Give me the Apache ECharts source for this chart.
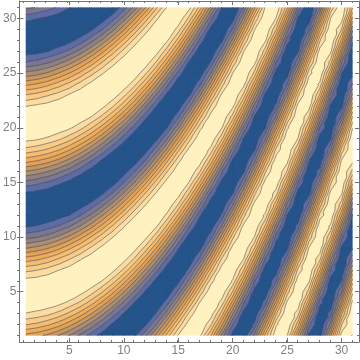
<!DOCTYPE html>
<html><head><meta charset="utf-8"><style>html,body{margin:0;padding:0;background:#fff}#c{width:360px;height:360px}</style>
<script src="https://cdn.jsdelivr.net/npm/echarts@6/dist/echarts.min.js"></script></head><body><div id="c"></div>
<script>
const levels=[-0.8,-0.64,-0.48,-0.32,-0.16,0,0.16,0.32,0.48,0.64,0.8];
const bandColors=['#25548B','#5B6CA6','#7A7795','#8D8283','#A98E78','#C59765','#DFA25A','#EDAC5E','#F4BD74','#F8CC88','#FBDDA3','#FFF2C0'];
const majorTicks=[5,10,15,20,25,30];
const minorTicks=[1,2,3,4,5,6,7,8,9,10,11,12,13,14,15,16,17,18,19,20,21,22,23,24,25,26,27,28,29,30,31];
// Estimated surface heights: one list per x = 1..31, each running y = 1..31.
const zX01=[.11,.49,.79,.97,.99,.86,.59,.23,-.17,-.54,-.82,-.98,-.98,-.83,-.54,-.17,.23,.59,.86,.99,.97,.79,.49,.11,-.28,-.63,-.88,-1,-.95,-.75,-.44];
const zX02=[.05,.44,.75,.95,1,.88,.63,.28,-.11,-.49,-.79,-.97,-.99,-.86,-.59,-.23,.17,.54,.83,.98,.98,.83,.54,.17,-.23,-.59,-.86,-.99,-.97,-.79,-.49];
const zX03=[-.04,.35,.69,.92,1,.92,.7,.37,-.02,-.41,-.73,-.94,-1,-.9,-.66,-.32,.08,.46,.77,.96,.99,.87,.62,.26,-.14,-.51,-.81,-.97,-.99,-.84,-.57];
const zX04=[-.17,.23,.59,.86,.99,.97,.79,.49,.11,-.28,-.63,-.88,-1,-.95,-.76,-.44,-.05,.34,.68,.91,1,.93,.71,.39,0,-.39,-.72,-.93,-1,-.91,-.67];
const zX05=[-.33,.06,.44,.76,.95,1,.88,.63,.28,-.12,-.5,-.8,-.97,-.99,-.85,-.58,-.22,.18,.55,.83,.98,.98,.82,.53,.16,-.23,-.6,-.86,-.99,-.97,-.79];
const zX06=[-.52,-.15,.25,.61,.87,.99,.96,.78,.47,.09,-.31,-.65,-.9,-1,-.94,-.74,-.42,-.03,.36,.7,.92,1,.92,.7,.36,-.03,-.42,-.74,-.94,-1,-.9];
const zX07=[-.71,-.38,.01,.4,.72,.94,1,.91,.67,.33,-.07,-.45,-.76,-.95,-1,-.88,-.63,-.27,.13,.5,.8,.97,.99,.85,.58,.21,-.18,-.55,-.83,-.98,-.98];
const zX08=[-.88,-.62,-.27,.13,.5,.8,.97,.99,.85,.58,.21,-.18,-.55,-.83,-.98,-.98,-.82,-.53,-.16,.24,.6,.86,.99,.96,.78,.48,.1,-.3,-.65,-.89,-1];
const zX09=[-.98,-.84,-.56,-.19,.21,.57,.85,.99,.97,.8,.51,.13,-.26,-.62,-.88,-.99,-.96,-.77,-.46,-.08,.32,.66,.9,1,.94,.73,.41,.02,-.37,-.71,-.93];
const zX10=[-.98,-.98,-.81,-.52,-.15,.25,.61,.87,.99,.96,.78,.47,.09,-.3,-.65,-.89,-1,-.94,-.74,-.42,-.03,.36,.69,.92,1,.92,.7,.37,-.03,-.41,-.73];
const zX11=[-.84,-.98,-.97,-.81,-.52,-.14,.25,.61,.87,.99,.96,.78,.47,.09,-.31,-.65,-.9,-1,-.94,-.74,-.42,-.03,.36,.7,.92,1,.92,.7,.36,-.03,-.42];
const zX12=[-.53,-.82,-.98,-.98,-.83,-.55,-.18,.22,.58,.85,.99,.97,.79,.5,.12,-.28,-.63,-.88,-1,-.95,-.76,-.45,-.06,.33,.67,.91,1,.93,.72,.39,0];
const zX13=[-.09,-.47,-.78,-.96,-.99,-.87,-.6,-.24,.15,.53,.82,.98,.98,.83,.56,.19,-.21,-.57,-.85,-.99,-.97,-.8,-.51,-.13,.27,.62,.88,.99,.96,.77,.45];
const zX14=[.4,.01,-.38,-.71,-.93,-1,-.91,-.69,-.35,.04,.43,.75,.95,1,.89,.64,.29,-.1,-.48,-.79,-.97,-.99,-.86,-.6,-.24,.16,.53,.82,.98,.98,.83];
const zX15=[.82,.53,.16,-.24,-.6,-.86,-.99,-.96,-.78,-.48,-.1,.3,.64,.89,1,.95,.75,.43,.04,-.35,-.69,-.92,-1,-.93,-.71,-.37,.02,.41,.73,.94,1];
const zX16=[1,.91,.68,.33,-.06,-.44,-.76,-.95,-1,-.88,-.63,-.28,.12,.49,.79,.97,.99,.85,.58,.22,-.17,-.54,-.83,-.98,-.98,-.82,-.54,-.17,.23,.59,.86];
const zX17=[.83,.98,.98,.82,.53,.16,-.24,-.6,-.86,-.99,-.96,-.78,-.48,-.1,.29,.64,.89,1,.95,.75,.43,.04,-.35,-.69,-.92,-1,-.93,-.71,-.38,.01,.4];
const zX18=[.32,.66,.9,1,.94,.73,.41,.02,-.37,-.7,-.92,-1,-.92,-.69,-.35,.04,.43,.74,.95,1,.89,.65,.3,-.1,-.48,-.78,-.96,-.99,-.87,-.6,-.24];
const zX19=[-.37,.03,.41,.73,.94,1,.9,.66,.31,-.08,-.47,-.77,-.96,-.99,-.87,-.61,-.25,.14,.52,.81,.97,.99,.84,.56,.2,-.2,-.57,-.84,-.99,-.97,-.81];
const zX20=[-.89,-.65,-.3,.09,.47,.78,.96,.99,.87,.6,.25,-.15,-.52,-.81,-.98,-.98,-.84,-.55,-.19,.21,.57,.85,.99,.97,.8,.51,.13,-.27,-.62,-.88,-1];
const zX21=[-.95,-1,-.88,-.63,-.27,.12,.5,.8,.97,.99,.85,.58,.22,-.18,-.55,-.83,-.98,-.98,-.82,-.53,-.16,.24,.6,.86,.99,.96,.79,.48,.1,-.29,-.64];
const zX22=[-.44,-.76,-.95,-1,-.88,-.63,-.28,.11,.49,.79,.97,.99,.86,.59,.22,-.17,-.54,-.83,-.98,-.98,-.82,-.54,-.17,.23,.59,.86,.99,.97,.79,.49,.11];
const zX23=[.38,-.01,-.4,-.72,-.94,-1,-.91,-.67,-.33,.07,.45,.76,.95,1,.88,.62,.27,-.13,-.5,-.8,-.97,-.99,-.85,-.58,-.21,.18,.55,.83,.98,.98,.82];
const zX24=[.96,.77,.46,.07,-.32,-.66,-.9,-1,-.94,-.73,-.41,-.02,.37,.71,.93,1,.92,.69,.35,-.04,-.43,-.75,-.95,-1,-.89,-.64,-.29,.1,.48,.78,.96];
const zX25=[.81,.97,.98,.84,.56,.19,-.2,-.57,-.85,-.99,-.97,-.81,-.51,-.14,.26,.62,.87,.99,.96,.77,.46,.08,-.32,-.66,-.9,-1,-.94,-.73,-.41,-.02,.37];
const zX26=[-.01,.38,.71,.93,1,.91,.69,.35,-.05,-.43,-.75,-.95,-1,-.89,-.64,-.29,.1,.48,.79,.96,.99,.86,.6,.24,-.16,-.53,-.82,-.98,-.98,-.83,-.55];
const zX27=[-.85,-.57,-.21,.19,.56,.84,.98,.98,.81,.52,.15,-.25,-.6,-.87,-.99,-.96,-.78,-.47,-.09,.3,.65,.89,1,.94,.74,.42,.03,-.36,-.69,-.92,-1];
const zX28=[-.89,-1,-.95,-.75,-.43,-.04,.35,.69,.92,1,.93,.71,.37,-.02,-.4,-.73,-.94,-1,-.9,-.66,-.32,.07,.46,.77,.96,.99,.88,.62,.26,-.13,-.51];
const zX29=[-.03,-.41,-.74,-.94,-1,-.9,-.66,-.31,.08,.47,.77,.96,.99,.87,.61,.25,-.14,-.52,-.81,-.97,-.99,-.84,-.56,-.2,.2,.57,.84,.99,.97,.81,.51];
const zX30=[.88,.63,.28,-.12,-.5,-.79,-.97,-.99,-.85,-.58,-.22,.18,.54,.83,.98,.98,.82,.54,.17,-.23,-.59,-.86,-.99,-.97,-.79,-.49,-.11,.29,.64,.89,1];
const zX31=[.79,.97,.99,.86,.59,.23,-.17,-.54,-.82,-.98,-.98,-.82,-.54,-.17,.23,.59,.86,.99,.97,.79,.49,.11,-.28,-.63,-.88,-1,-.95,-.76,-.44,-.05,.34];
const zCols=[zX01,zX02,zX03,zX04,zX05,zX06,zX07,zX08,zX09,zX10,zX11,zX12,zX13,zX14,zX15,zX16,zX17,zX18,zX19,zX20,zX21,zX22,zX23,zX24,zX25,zX26,zX27,zX28,zX29,zX30,zX31];
function clip(poly,lev,keepAbove){const out=[];for(let i=0;i<poly.length;i++){const a=poly[i],b=poly[(i+1)%poly.length];const ai=keepAbove?a[2]>=lev:a[2]<=lev,bi=keepAbove?b[2]>=lev:b[2]<=lev;if(ai)out.push(a);if(ai!==bi){const t=(lev-a[2])/(b[2]-a[2]);out.push([a[0]+t*(b[0]-a[0]),a[1]+t*(b[1]-a[1]),lev]);}}return out;}
function tris(){const r=[];for(let i=0;i<30;i++)for(let j=0;j<30;j++){const p=(a,b)=>[a+1,b+1,zCols[a][b]];r.push([p(i,j),p(i+1,j),p(i+1,j+1)]);r.push([p(i,j),p(i+1,j+1),p(i,j+1)]);}return r;}
const T=tris();
function bandPath(k,api){let d='';const lo=k>0?levels[k-1]:-Infinity,hi=k<levels.length?levels[k]:Infinity;for(const t of T){let q=t;if(lo>-Infinity)q=clip(q,lo,true);if(q.length&&hi<Infinity)q=clip(q,hi,false);if(q.length<3)continue;q.forEach((v,i)=>{const c=api.coord([v[0],v[1]]);d+=(i?'L':'M')+c[0].toFixed(2)+' '+c[1].toFixed(2);});d+='Z';}return d;}
function linePath(api){let d='';for(const lev of levels)for(const t of T){const pts=[];for(let i=0;i<3;i++){const a=t[i],b=t[(i+1)%3];if((a[2]>=lev)!==(b[2]>=lev)){const u=(lev-a[2])/(b[2]-a[2]);pts.push([a[0]+u*(b[0]-a[0]),a[1]+u*(b[1]-a[1])]);}}if(pts.length===2){const p=api.coord(pts[0]),q=api.coord(pts[1]);d+='M'+p[0].toFixed(2)+' '+p[1].toFixed(2)+'L'+q[0].toFixed(2)+' '+q[1].toFixed(2);}}return d;}
const gridBox={left:17,right:1,top:1,bottom:18};
const lineC='#737373';
function xA(gi,pos,vals,len,lab,line){return {type:'value',gridIndex:gi,position:pos,min:0.4,max:31.6,axisLine:{show:line,onZero:false,lineStyle:{color:lineC,width:1}},axisTick:{show:true,inside:true,length:len,customValues:vals,lineStyle:{color:lineC,width:1}},minorTick:{show:false},axisLabel:{show:lab,customValues:vals,color:'#808080',fontFamily:'Liberation Sans',fontSize:12,margin:3},splitLine:{show:false}};}
const option={animation:false,backgroundColor:'#fff',
grid:[Object.assign({},gridBox),Object.assign({},gridBox)],
xAxis:[xA(0,'bottom',majorTicks,4,true,true),xA(0,'top',majorTicks,4,false,true),xA(1,'bottom',minorTicks,2,false,false),xA(1,'top',minorTicks,2,false,false)],
yAxis:[xA(0,'left',majorTicks,4,true,true),xA(0,'right',majorTicks,4,false,true),xA(1,'left',minorTicks,2,false,false),xA(1,'right',minorTicks,2,false,false)],
series:[{type:'custom',coordinateSystem:'cartesian2d',xAxisIndex:0,yAxisIndex:0,silent:true,clip:false,data:bandColors.map((c,i)=>[i]).concat([[99]]),
renderItem(params,api){const k=api.value(0);if(k===99)return {type:'path',shape:{pathData:linePath(api)},style:{fill:null,stroke:'rgba(40,40,40,0.6)',lineWidth:0.8}};return {type:'path',shape:{pathData:bandPath(k,api)},style:{fill:bandColors[k],stroke:bandColors[k],lineWidth:0.3}};},encode:{x:0}}]};
echarts.init(document.getElementById('c'),null,{renderer:'canvas'}).setOption(option);
</script></body></html>
